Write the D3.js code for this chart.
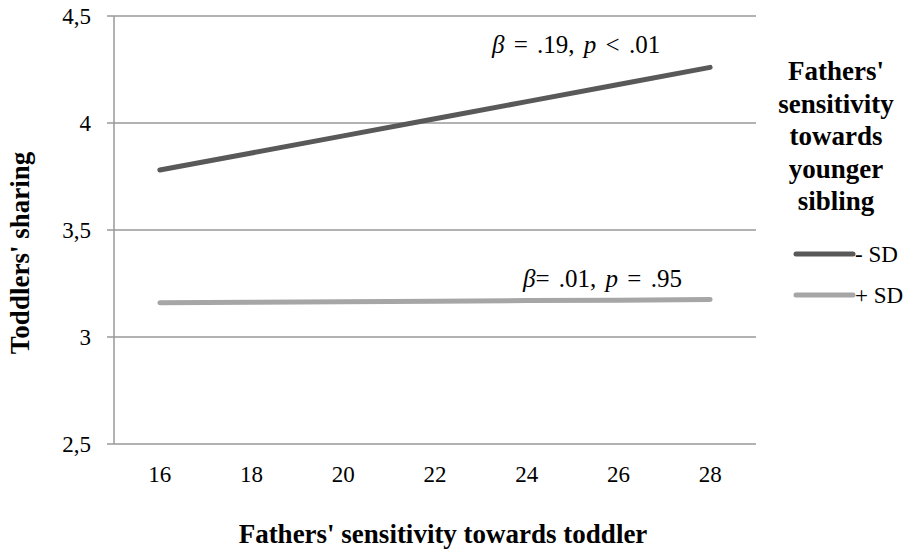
<!DOCTYPE html>
<html>
<head>
<meta charset="utf-8">
<script src="https://cdn.jsdelivr.net/npm/d3@7"></script>
<style>
  html, body { margin: 0; padding: 0; background: #fff; }
  svg { display: block; }
</style>
</head>
<body>
<svg id="chart" width="910" height="553"></svg>
<script>
// ---- data ----
const categories = ["16", "18", "20", "22", "24", "26", "28"];
const seriesNames = ["- SD", "+ SD"];
const lowSD  = [3.78, 3.86, 3.94, 4.02, 4.10, 4.18, 4.26];
const highSD = [3.160, 3.162, 3.165, 3.167, 3.170, 3.172, 3.175];
const yTicks = [2.5, 3, 3.5, 4, 4.5];
const yTickLabels = ["2,5", "3", "3,5", "4", "4,5"];
const legendTitle = ["Fathers'", "sensitivity", "towards", "younger", "sibling"];
const xTitle = "Fathers' sensitivity towards toddler";
const yTitle = "Toddlers' sharing";
const annotations = [
  [["β", true], [" = .19, ", false], ["p", true], [" < .01", false]],
  [["β", true], ["= .01, ", false], ["p", true], [" = .95", false]]
];

const colors = ["#595959", "#a6a6a6"];
const seriesValues = [lowSD, highSD];
const FONT = '"Liberation Serif", "DejaVu Serif", serif';

// ---- layout ----
const svg = d3.select("#chart");
const plot = { left: 114, right: 756, top: 16, bottom: 444 };

const x = d3.scaleBand().domain(categories).range([plot.left, plot.right]).padding(0);
const y = d3.scaleLinear().domain([2.5, 4.5]).range([plot.bottom, plot.top]);

// gridlines (with small tick stubs left of the axis)
svg.append("g").selectAll("line").data(yTicks).join("line")
  .attr("x1", plot.left - 7).attr("x2", plot.right)
  .attr("y1", d => y(d)).attr("y2", d => y(d))
  .attr("stroke", "#999").attr("stroke-width", 1.5);

// y axis line
svg.append("line")
  .attr("x1", plot.left).attr("x2", plot.left)
  .attr("y1", y(4.5)).attr("y2", y(2.5))
  .attr("stroke", "#999").attr("stroke-width", 1.5);

// y tick labels via axis
const yAxis = d3.axisLeft(y).tickValues(yTicks)
  .tickFormat((d, i) => yTickLabels[i]).tickSize(0).tickPadding(23);
const gy = svg.append("g").attr("transform", `translate(${plot.left},0)`).call(yAxis)
  .attr("font-family", null).attr("font-size", null);
gy.select(".domain").remove();
gy.selectAll("text").style("font-family", FONT).style("font-size", "23px").attr("fill", "#000");

// x tick labels via axis
const xAxis = d3.axisBottom(x).tickSize(0).tickPadding(22);
const gx = svg.append("g").attr("transform", `translate(0,${plot.bottom})`).call(xAxis)
  .attr("font-family", null).attr("font-size", null);
gx.select(".domain").remove();
gx.selectAll("text").style("font-family", FONT).style("font-size", "23px").attr("fill", "#000");

// lines
const line = d3.line().x((d, i) => x(categories[i]) + x.bandwidth() / 2).y(d => y(d));
svg.append("g").selectAll("path").data(seriesValues).join("path")
  .attr("d", d => line(d))
  .attr("fill", "none")
  .attr("stroke", (d, i) => colors[i])
  .attr("stroke-width", 5)
  .attr("stroke-linecap", "round");

// annotations
const annPos = [[492, 53], [523, 287]];
annotations.forEach((parts, k) => {
  const t = svg.append("text").attr("x", annPos[k][0]).attr("y", annPos[k][1])
    .style("font-family", FONT).style("font-size", "25px").style("word-spacing", "3px");
  parts.forEach(([s, it]) => {
    t.append("tspan").text(s).style("font-style", it ? "italic" : "normal");
  });
});

// axis titles
svg.append("text")
  .attr("x", 443).attr("y", 543)
  .attr("text-anchor", "middle")
  .style("font-family", FONT).style("font-weight", "bold").style("font-size", "27px")
  .text(xTitle);

svg.append("text")
  .attr("transform", "translate(29,253) rotate(-90)")
  .attr("text-anchor", "middle")
  .style("font-family", FONT).style("font-weight", "bold").style("font-size", "27px")
  .text(yTitle);

// legend title
svg.append("g").selectAll("text").data(legendTitle).join("text")
  .attr("x", 836).attr("y", (d, i) => 80 + i * 32.6)
  .attr("text-anchor", "middle")
  .style("font-family", FONT).style("font-weight", "bold").style("font-size", "27px")
  .text(d => d);

// legend entries
const leg = svg.append("g").selectAll("g").data(seriesNames).join("g")
  .attr("transform", (d, i) => `translate(796,${254 + i * 41})`);
leg.append("line").attr("x1", 0).attr("x2", 57).attr("y1", 0).attr("y2", 0)
  .attr("stroke", (d, i) => colors[i]).attr("stroke-width", 5).attr("stroke-linecap", "round");
leg.append("text").attr("x", 59).attr("y", 8)
  .style("font-family", FONT).style("font-size", "23px").text(d => d);
</script>
</body>
</html>
